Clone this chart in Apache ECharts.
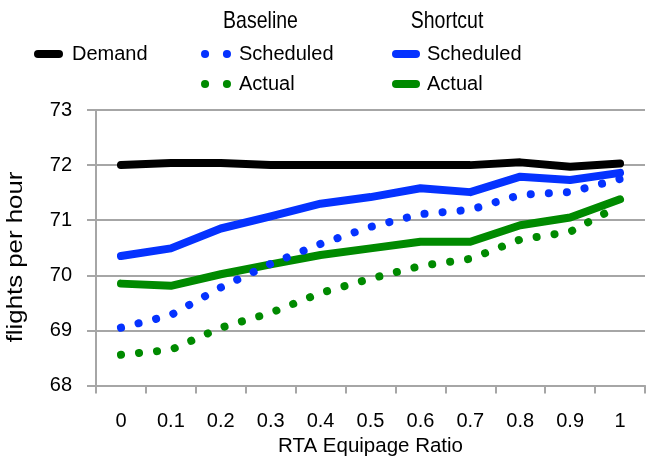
<!DOCTYPE html>
<html>
<head>
<meta charset="utf-8">
<script src="https://cdn.jsdelivr.net/npm/echarts@6/dist/echarts.min.js"></script>
<style>
  html, body { margin: 0; padding: 0; background: #fff; }
  #chart { width: 653px; height: 462px; }
</style>
</head>
<body>
<div id="chart"></div>
<script>
// ---- data ----
const categories = ['0', '0.1', '0.2', '0.3', '0.4', '0.5', '0.6', '0.7', '0.8', '0.9', '1'];
const demand = [72.0, 72.04, 72.04, 72.0, 72.0, 72.0, 72.0, 72.0, 72.05, 71.97, 72.03];
const baselineScheduled = [69.05, 69.28, 69.78, 70.21, 70.57, 70.88, 71.11, 71.19, 71.46, 71.51, 71.75];
const baselineActual = [68.56, 68.65, 69.05, 69.32, 69.68, 69.94, 70.17, 70.30, 70.65, 70.79, 71.27];
const shortcutScheduled = [70.35, 70.49, 70.85, 71.07, 71.30, 71.42, 71.58, 71.51, 71.79, 71.73, 71.86];
const shortcutActual = [69.85, 69.81, 70.02, 70.20, 70.37, 70.49, 70.61, 70.61, 70.91, 71.05, 71.38];
const yTicks = { min: 68, max: 73, interval: 1 };
const texts = {
  xName: 'RTA Equipage Ratio',
  yName: 'flights per hour',
  baselineHeader: 'Baseline',
  shortcutHeader: 'Shortcut'
};

// ---- style ----
const BLACK = '#000000';
const BLUE = '#0532ff';
const GREEN = '#008a00';
const GRID = '#a6a6a6';
const TXT = "'Liberation Sans', Arial, sans-serif";
const DOT = [0.1, 18];

const chart = echarts.init(document.getElementById('chart'), null, { renderer: 'canvas' });

function solid(name, data, color, z) {
  return {
    name, type: 'line', data, symbol: 'none', z,
    lineStyle: { color, width: 8, cap: 'round', join: 'round' },
    itemStyle: { color }
  };
}
function dotted(name, data, color, z) {
  return {
    name, type: 'line', data, symbol: 'none', z,
    lineStyle: { color, width: 8, type: DOT, cap: 'round', join: 'round' },
    itemStyle: { color }
  };
}

const legendText = { fontFamily: TXT, fontSize: 20, color: '#000', lineHeight: 24 };

chart.setOption({
  animation: false,
  backgroundColor: '#fff',
  grid: { left: 96, right: 8, top: 110, bottom: 74, containLabel: false },
  xAxis: {
    type: 'category',
    data: categories,
    boundaryGap: true,
    name: texts.xName,
    nameLocation: 'middle',
    nameGap: 49,
    nameTextStyle: { fontFamily: TXT, fontSize: 20.5, color: '#000' },
    axisLine: { show: true, lineStyle: { color: GRID, width: 2 } },
    axisTick: { show: true, length: 8, interval: 0, lineStyle: { color: GRID, width: 2 } },
    axisLabel: { fontFamily: TXT, fontSize: 20, color: '#000', margin: 25.5, interval: 0 },
    splitLine: { show: false }
  },
  yAxis: {
    type: 'value',
    min: yTicks.min, max: yTicks.max, interval: yTicks.interval,
    axisLine: { show: true, lineStyle: { color: GRID, width: 2 } },
    axisTick: { show: true, length: 9, lineStyle: { color: GRID, width: 2 } },
    axisLabel: { fontFamily: TXT, fontSize: 20, color: '#000', margin: 24, padding: [7, 0, 0, 0] },
    splitLine: { show: true, lineStyle: { color: GRID, width: 2 } }
  },
  legend: [
    {
      data: ['Demand'],
      left: 29, top: 37,
      itemWidth: 21, itemHeight: 8,
      selectedMode: false,
      lineStyle: { width: 8, cap: 'round' },
      textStyle: Object.assign({ padding: [0, 0, 0, 8] }, legendText)
    },
    {
      data: [
        { name: 'Baseline Scheduled', lineStyle: { type: [0.1, 21.8] }, itemStyle: { opacity: 0 } },
        { name: 'Baseline Actual', lineStyle: { type: [0.1, 21.8] }, itemStyle: { opacity: 0 } }
      ],
      orient: 'vertical',
      left: 196, top: 37,
      itemWidth: 22, itemHeight: 8, itemGap: 6,
      selectedMode: false,
      lineStyle: { width: 8, cap: 'round' },
      formatter: n => n.split(' ')[1],
      textStyle: Object.assign({ padding: [0, 0, 0, 7] }, legendText)
    },
    {
      data: ['Shortcut Scheduled', 'Shortcut Actual'],
      orient: 'vertical',
      left: 387, top: 37,
      itemWidth: 20, itemHeight: 8, itemGap: 6,
      selectedMode: false,
      lineStyle: { width: 8, cap: 'round' },
      formatter: n => n.split(' ')[1],
      textStyle: Object.assign({ padding: [0, 0, 0, 6] }, legendText)
    }
  ],
  graphic: [
    {
      type: 'text', x: 260.5, y: 21.7, scaleY: 1.2,
      style: { text: texts.baselineHeader, font: "19.5px " + TXT, fill: '#000', align: 'center', verticalAlign: 'middle' }
    },
    {
      type: 'text', x: 447, y: 21.7, scaleY: 1.2,
      style: { text: texts.shortcutHeader, font: "19.5px " + TXT, fill: '#000', align: 'center', verticalAlign: 'middle' }
    },
    {
      type: 'text', x: 16, y: 257, rotation: Math.PI / 2, scaleX: 1.2,
      style: { text: texts.yName, font: "21.5px " + TXT, fill: '#000', align: 'center', verticalAlign: 'middle' }
    }
  ],
  series: [
    solid('Demand', demand, BLACK, 5),
    solid('Shortcut Scheduled', shortcutScheduled, BLUE, 2),
    solid('Shortcut Actual', shortcutActual, GREEN, 2),
    dotted('Baseline Scheduled', baselineScheduled, BLUE, 3),
    dotted('Baseline Actual', baselineActual, GREEN, 3)
  ]
});
</script>
</body>
</html>
